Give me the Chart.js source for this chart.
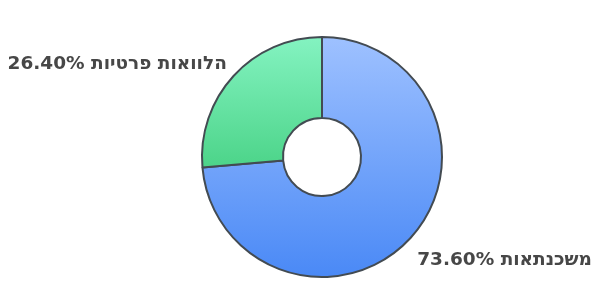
<!DOCTYPE html>
<html>
<head>
<meta charset="utf-8">
<script src="https://cdn.jsdelivr.net/npm/chart.js@4/dist/chart.umd.min.js"></script>
<style>
  html, body { margin: 0; padding: 0; background: #fff; }
  .chart__container { width: 611px; height: 307px; }
</style>
</head>
<body>
<div class="chart__container">
  <canvas id="loansChart"></canvas>
</div>
<script>
const labels = ['משכנתאות', 'הלוואות פרטיות'];
const values = [73.6, 26.4];
const topColors = ['#9ec1ff', '#84f3c1'];
const bottomColors = ['#4a89f6', '#4cd489'];

const RADIUS = 120;
const FONT_SIZE = 18.5;

// vertical gradient per slice, spanning the slice's own height
const sliceGradient = (context) => {
  const { chart, dataIndex } = context;
  const area = chart.chartArea;
  if (!area) return topColors[dataIndex];
  const cy = (area.top + area.bottom) / 2;
  const total = values.reduce((a, b) => a + b, 0);
  let start = -Math.PI / 2;
  for (let i = 0; i < dataIndex; i++) start += (values[i] / total) * Math.PI * 2;
  const top = cy - RADIUS;
  const bottom = dataIndex === 0 ? cy + RADIUS : cy + Math.sin(start) * RADIUS;
  const g = chart.ctx.createLinearGradient(0, top, 0, bottom);
  g.addColorStop(0, topColors[dataIndex]);
  g.addColorStop(1, bottomColors[dataIndex]);
  return g;
};

const outsideLabels = {
  id: 'outsideLabels',
  afterDatasetsDraw(chart) {
    const { ctx } = chart;
    const meta = chart.getDatasetMeta(0);
    ctx.save();
    ctx.font = `bold ${FONT_SIZE}px "DejaVu Sans"`;
    ctx.fillStyle = '#474747';
    ctx.textBaseline = 'alphabetic';
    ctx.direction = 'ltr';
    meta.data.forEach((arc, i) => {
      const mid = (arc.startAngle + arc.endAngle) / 2;
      const r = arc.outerRadius + 9;
      const px = arc.x + Math.cos(mid) * r;
      const py = arc.y + Math.sin(mid) * r;
      const onRight = Math.cos(mid) >= 0;
      const below = Math.sin(mid) > 0;
      const text = values[i].toFixed(2) + '% ' + labels[i];
      ctx.textAlign = onRight ? 'left' : 'right';
      ctx.fillText(text, px, below ? py + FONT_SIZE + 2 : py - 1);
    });
    ctx.restore();
  }
};

new Chart(document.getElementById('loansChart'), {
  type: 'doughnut',
  plugins: [outsideLabels],
  data: {
    labels: labels,
    datasets: [
      {
        data: values,
        backgroundColor: sliceGradient,
        borderColor: '#434b52',
        borderWidth: 2,
        hoverOffset: 0,
      },
    ],
  },
  options: {
    responsive: true,
    maintainAspectRatio: false,
    animation: false,
    radius: RADIUS,
    cutout: '32.5%',
    layout: { padding: { left: 33, right: 0, top: 7, bottom: 0 } },
    plugins: {
      legend: { display: false },
      tooltip: { enabled: false },
    },
  },
});
</script>
</body>
</html>
